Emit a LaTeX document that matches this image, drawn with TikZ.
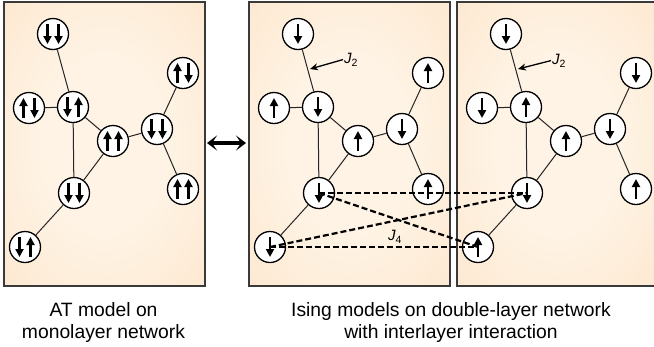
\documentclass[tikz,border=0pt]{standalone}
\usepackage{fontspec}
\setmainfont{Liberation Sans}
\usetikzlibrary{arrows.meta}

\definecolor{panelin}{HTML}{FEF3E4}
\definecolor{panelout}{HTML}{FDE1C4}
\definecolor{frame}{HTML}{3A3A3A}
\pgfdeclareradialshading{panelglow}{\pgfpoint{0bp}{0bp}}{%
  color(0bp)=(panelin); color(16bp)=(panelin); color(50bp)=(panelout)}

% one spin arrow inside a site: #1 site, #2 horizontal offset, #3 u or d
\newcommand\drawspin[3]{%
  \if#3u
    \draw[spinline] ([xshift=#2,yshift=-10bp]#1.center) -- ([xshift=#2,yshift=10bp]#1.center);
  \else
    \draw[spinline] ([xshift=#2,yshift=10bp]#1.center) -- ([xshift=#2,yshift=-10bp]#1.center);
  \fi}

\tikzset{
  panel/.style={shading=panelglow, draw=frame, line width=1.5bp},
  site/.style={circle, draw=black, fill=white, line width=1.3bp,
    minimum size=31bp, inner sep=0pt},
  bond/.style={draw=black!85, line width=1bp},
  spinline/.style={line width=2.3bp, -{Triangle[width=8bp,length=8bp]}},
  coupling/.style={line width=2.2bp, dash pattern=on 6bp off 3bp},
  pointer/.style={line width=1.3bp, -{Stealth[width=7bp,length=8bp]}},
  swaparrow/.style={line width=3.2bp,
    {Stealth[width=15bp,length=10bp,inset=5bp]}-{Stealth[width=15bp,length=10bp,inset=5bp]}},
  caption/.style={font=\fontsize{19.3bp}{22bp}\selectfont, anchor=base, inner sep=0pt},
  jlabel/.style={font=\fontsize{15bp}{17bp}\selectfont, anchor=base west, inner sep=1bp}
}

\begin{document}
\begin{tikzpicture}[x=1bp, y=-1bp]
\useasboundingbox (0,0) rectangle (654,346);
\begin{scope}
\clip (0,0) rectangle (654,346);

% three panels: monolayer AT network and the two Ising layers
\shadedraw[panel] (4,2) rectangle (205,286);
\shadedraw[panel] (249,2) rectangle (450,286);
\shadedraw[panel] (457,2) rectangle (658,286);

% sites
\foreach \n/\x/\y in {a/53/34, b/29/108, c/73/107, d/113/141, e/157/129,
                      f/183/73, g/183/189, h/74/193, k/25/247}{
  \node[site] (p1\n) at (\x,\y) {};
  \node[site] (p2\n) at (\x+245,\y) {};
  \node[site] (p3\n) at (\x+453,\y) {};
}

% bonds of the network, identical in every panel
\foreach \p in {1,2,3}{
  \foreach \u/\v in {a/c, b/c, c/d, c/h, d/h, d/e, e/f, e/g, h/k}{
    \draw[bond] (p\p\u) -- (p\p\v);
  }
}

% interlayer couplings J4
\draw[coupling] (p2h.center) -- (p3h.center);
\draw[coupling] (p2k.center) -- (p3k.center);
\draw[coupling] (p2h.center) -- (p3k.center);
\draw[coupling] (p2k.center) -- (p3h.center);

% spins: AT site carries both, each Ising layer carries one
\foreach \n/\l/\r in {a/d/d, b/u/d, c/d/u, d/u/u, e/d/d,
                      f/u/d, g/u/u, h/d/d, k/d/u}{
  \drawspin{p1\n}{-5.5bp}{\l}
  \drawspin{p1\n}{5.5bp}{\r}
  \drawspin{p2\n}{0bp}{\l}
  \drawspin{p3\n}{0bp}{\r}
}

% coupling labels
\node[jlabel] (j2b) at (343,63) {\itshape J\raisebox{-3.5bp}{\fontsize{10.5bp}{11bp}\selectfont\upshape 2}};
\coordinate (j2btip) at (310,69);
\draw[pointer] (j2b.west) -- (j2btip);
\node[jlabel] (j2c) at (551,64) {\itshape J\raisebox{-3.5bp}{\fontsize{10.5bp}{11bp}\selectfont\upshape 2}};
\coordinate (j2ctip) at (518,69);
\draw[pointer] (j2c.west) -- (j2ctip);
\node[jlabel] (j4) at (387,240) {\itshape J\raisebox{-3.5bp}{\fontsize{10.5bp}{11bp}\selectfont\upshape 4}};
\end{scope}

% equivalence arrow
\coordinate (swapl) at (207,143);
\coordinate (swapr) at (246,143);
\draw[swaparrow] (swapl) -- (swapr);

% captions
\node[caption] (cap1a) at (103.5,316) {AT model on};
\node[caption] (cap1b) at (103.5,338) {monolayer network};
\node[caption] (cap2a) at (451,316) {Ising models on double-layer network};
\node[caption] (cap2b) at (451,338) {with interlayer interaction};
\end{tikzpicture}
\end{document}
